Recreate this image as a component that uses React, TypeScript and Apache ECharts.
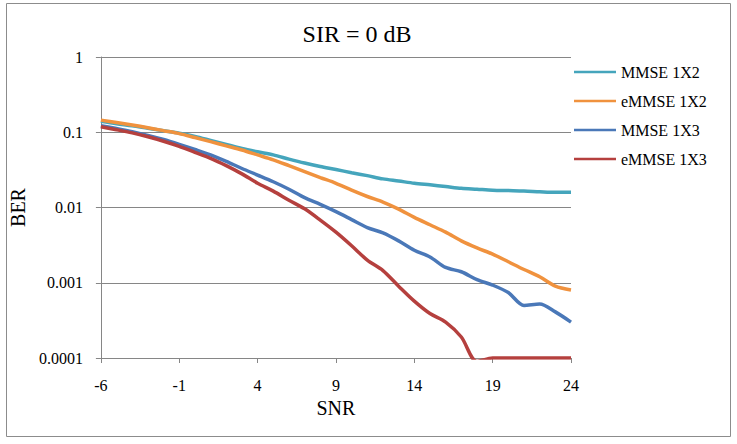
import React, { useEffect, useRef } from "react";
import * as echarts from "echarts";

// SNR values (dB) along the horizontal axis
const snr: string[] = [
  "-6", "-5", "-4", "-3", "-2", "-1", "0", "1", "2", "3", "4", "5", "6", "7", "8", "9",
  "10", "11", "12", "13", "14", "15", "16", "17", "18", "19", "20", "21", "22", "23", "24",
];

// Bit error rate per receiver
const mmse1x2: number[] = [
  0.14, 0.13, 0.122, 0.113, 0.105, 0.097, 0.088, 0.078, 0.069, 0.061, 0.055, 0.05, 0.044,
  0.039, 0.035, 0.032, 0.029, 0.0265, 0.024, 0.0225, 0.021, 0.02, 0.019, 0.018, 0.0175,
  0.017, 0.0168, 0.0166, 0.0162, 0.0159, 0.0159,
];
const emmse1x2: number[] = [
  0.145, 0.135, 0.125, 0.115, 0.105, 0.096, 0.085, 0.075, 0.066, 0.058, 0.05, 0.043, 0.036,
  0.03, 0.025, 0.021, 0.017, 0.014, 0.0118, 0.0095, 0.0074, 0.0059, 0.0047, 0.0036, 0.0029,
  0.0024, 0.0019, 0.0015, 0.0012, 0.0009, 0.0008,
];
const mmse1x3: number[] = [
  0.122, 0.112, 0.102, 0.091, 0.08, 0.069, 0.059, 0.05, 0.041, 0.033, 0.027, 0.022, 0.0175,
  0.0135, 0.011, 0.0088, 0.0069, 0.0054, 0.0046, 0.0036, 0.0027, 0.0022, 0.0016, 0.0014,
  0.0011, 0.00093, 0.00074, 0.0005, 0.00052, 0.00041, 0.0003,
];
const emmse1x3: number[] = [
  0.118, 0.108, 0.098, 0.087, 0.076, 0.065, 0.054, 0.045, 0.036, 0.028, 0.021, 0.0165,
  0.0125, 0.0096, 0.0068, 0.0047, 0.0031, 0.002, 0.00145, 0.0009, 0.00057, 0.00039, 0.0003,
  0.00019, 0.00009, 0.0001, 0.0001, 0.0001, 0.0001, 0.0001, 0.0001,
];

const seriesNames: string[] = ["MMSE 1X2", "eMMSE 1X2", "MMSE 1X3", "eMMSE 1X3"];
const seriesColors: string[] = ["#45A5BC", "#F0923E", "#4A78B8", "#B5403E"];

// BER tick labels, one per decade from 1e-4 to 1
const berTickLabels: string[] = ["0.0001", "0.001", "0.01", "0.1", "1"];

const FONT = "Liberation Serif";

export default function App() {
  const ref = useRef<HTMLDivElement>(null);

  useEffect(() => {
    if (!ref.current) return;
    const chart = echarts.init(ref.current, undefined, { renderer: "svg" });
    const values = [mmse1x2, emmse1x2, mmse1x3, emmse1x3];

    chart.setOption({
      animation: false,
      backgroundColor: "#ffffff",
      title: {
        text: "SIR = 0 dB",
        left: 352,
        top: 17,
        textAlign: "center",
        textStyle: { fontFamily: FONT, fontSize: 24, fontWeight: "normal", color: "#000" },
      },
      graphic: [
        {
          type: "rect",
          shape: { x: 6.5, y: 3.5, width: 724, height: 433 },
          style: { fill: "none", stroke: "#8c8c8c", lineWidth: 1 },
          silent: true,
        },
      ],
      legend: {
        orient: "vertical",
        left: 569,
        top: 59,
        icon: "rect",
        itemWidth: 42,
        itemHeight: 2.5,
        itemGap: 13,
        textStyle: { fontFamily: FONT, fontSize: 16, color: "#000", lineHeight: 16 },
        data: seriesNames,
      },
      grid: { left: 100, right: 166, top: 57, bottom: 86, containLabel: false },
      xAxis: {
        type: "category",
        data: snr,
        boundaryGap: false,
        name: "SNR",
        nameLocation: "middle",
        nameGap: 40,
        nameTextStyle: { fontFamily: FONT, fontSize: 20, color: "#000" },
        axisLine: { lineStyle: { color: "#868686", width: 1 } },
        axisTick: { show: true, interval: 4, length: 5, lineStyle: { color: "#868686" } },
        axisLabel: {
          interval: 4,
          margin: 19,
          fontFamily: FONT,
          fontSize: 16,
          color: "#000",
        },
        splitLine: { show: false },
      },
      yAxis: {
        type: "log",
        logBase: 10,
        min: 0.0001,
        max: 1,
        name: "BER",
        nameLocation: "middle",
        nameGap: 68,
        nameTextStyle: { fontFamily: FONT, fontSize: 20, color: "#000" },
        axisLine: { show: true, lineStyle: { color: "#868686", width: 1 } },
        axisTick: { show: true, length: 5, lineStyle: { color: "#868686" } },
        axisLabel: {
          margin: 18,
          fontFamily: FONT,
          fontSize: 16,
          color: "#000",
          formatter: (v: number) => {
            const i = Math.round(Math.log10(v)) + 4;
            return berTickLabels[i] ?? "";
          },
        },
        splitLine: { show: true, lineStyle: { color: "#868686", width: 1 } },
      },
      series: seriesNames.map((name, i) => ({
        name,
        type: "line",
        data: values[i],
        smooth: 0.3,
        symbol: "none",
        clip: true,
        lineStyle: { color: seriesColors[i], width: 3.5 },
        itemStyle: { color: seriesColors[i] },
      })),
    });

    return () => chart.dispose();
  }, []);

  return (
    <div
      ref={ref}
      style={{ position: "fixed", left: 0, top: 0, width: 737, height: 444 }}
    />
  );
}
